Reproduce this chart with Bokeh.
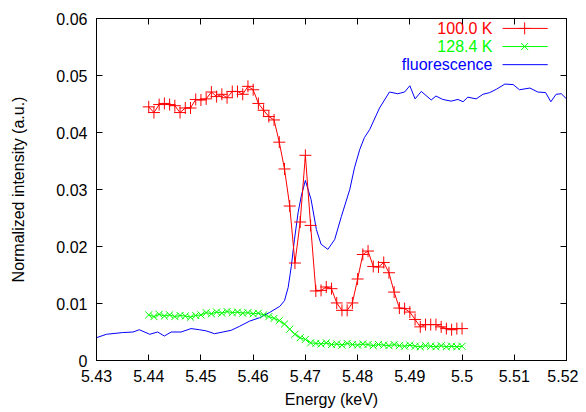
from bokeh.plotting import figure
from bokeh.models import Range1d, FixedTicker, LinearAxis
from bokeh.core.properties import value
from bokeh.embed import file_html
from bokeh.resources import INLINE

# ---------------- data ----------------
energy_start = 5.440
energy_step = 0.001
n_points = 61
energy = [round(energy_start + energy_step * i, 3) for i in range(n_points)]

int_100K = [
    0.0445, 0.0435, 0.0449, 0.0451, 0.0449, 0.0447, 0.0435, 0.0443, 0.0443, 0.0458,
    0.0457, 0.0459, 0.0471, 0.0463, 0.0467, 0.0461, 0.0472, 0.0472, 0.0467, 0.0481,
    0.0475, 0.0451, 0.0439, 0.0428, 0.0422, 0.0383, 0.0336, 0.0271, 0.0171, 0.0243,
    0.0360, 0.0237, 0.0122, 0.0123, 0.0129, 0.0126, 0.0101, 0.0088, 0.0088, 0.0101,
    0.0143, 0.0186, 0.0192, 0.0165, 0.0164, 0.0172, 0.0154, 0.0120, 0.0092, 0.0091,
    0.0085, 0.0072, 0.0059, 0.0063, 0.0063, 0.0063, 0.0059, 0.0056, 0.0054, 0.0056,
    0.0056,
]

int_128K = [
    0.0080, 0.0077, 0.0081, 0.0078, 0.0080, 0.0077, 0.0079, 0.0078, 0.0076, 0.0079,
    0.0080, 0.0084, 0.0082, 0.0085, 0.0083, 0.0086, 0.0084, 0.0085, 0.0083, 0.0084,
    0.0082, 0.0083, 0.0080, 0.0077, 0.0074, 0.0070, 0.0064, 0.0055, 0.0046, 0.0040,
    0.0037, 0.0031, 0.0030, 0.0029, 0.0031, 0.0028, 0.0029, 0.0027, 0.0030, 0.0028,
    0.0027, 0.0029, 0.0028, 0.0026, 0.0028, 0.0027, 0.0026, 0.0028, 0.0026, 0.0025,
    0.0027, 0.0025, 0.0024, 0.0026, 0.0025, 0.0024, 0.0026, 0.0024, 0.0025, 0.0024,
    0.0025,
]

fluo_energy = [
    5.4300, 5.4319, 5.4350, 5.4370, 5.4382, 5.4402, 5.4417, 5.4430, 5.4443, 5.4462,
    5.4481, 5.4497, 5.4510, 5.4526, 5.4542, 5.4558, 5.4574, 5.4593, 5.4612, 5.4631,
    5.4651, 5.4660, 5.4667, 5.4673, 5.4679, 5.4686, 5.4692, 5.4700, 5.4711, 5.4721,
    5.4730, 5.4743, 5.4756, 5.4769, 5.4785, 5.4794, 5.4804, 5.4813, 5.4823, 5.4842,
    5.4861, 5.4877, 5.4890, 5.4900, 5.4910, 5.4922, 5.4941, 5.4950, 5.4963, 5.4979,
    5.4992, 5.5002, 5.5011, 5.5027, 5.5040, 5.5053, 5.5066, 5.5082, 5.5098, 5.5110,
    5.5130, 5.5145, 5.5160, 5.5170, 5.5180, 5.5190, 5.5200,
]
fluo_int = [
    0.0040, 0.0046, 0.0049, 0.0050, 0.0054, 0.0046, 0.0050, 0.0043, 0.0050, 0.0050,
    0.0056, 0.0054, 0.0052, 0.0047, 0.0050, 0.0053, 0.0060, 0.0069, 0.0075, 0.0084,
    0.0095, 0.0105, 0.0128, 0.0165, 0.0212, 0.0259, 0.0288, 0.0316, 0.0282, 0.0230,
    0.0204, 0.0195, 0.0212, 0.0253, 0.0300, 0.0338, 0.0370, 0.0391, 0.0405, 0.0443,
    0.0471, 0.0468, 0.0471, 0.0482, 0.0459, 0.0472, 0.0457, 0.0464, 0.0458, 0.0455,
    0.0458, 0.0454, 0.0462, 0.0459, 0.0467, 0.0470, 0.0476, 0.0485, 0.0484, 0.0475,
    0.0478, 0.0471, 0.0470, 0.0454, 0.0467, 0.0468, 0.0459,
]

x_ticks = [5.43, 5.44, 5.45, 5.46, 5.47, 5.48, 5.49, 5.50, 5.51, 5.52]
x_tick_labels = ["5.43", "5.44", "5.45", "5.46", "5.47", "5.48", "5.49", "5.5", "5.51", "5.52"]
y_ticks = [0.0, 0.01, 0.02, 0.03, 0.04, 0.05, 0.06]
y_tick_labels = ["0", "0.01", "0.02", "0.03", "0.04", "0.05", "0.06"]

series_labels = ["100.0 K", "128.4 K", "fluorescence"]
series_colors = ["#ff0000", "#00ff00", "#0000ff"]

# ---------------- figure ----------------
FONT = "Liberation Sans"
FS = "16px"

p = figure(
    width=578, height=410,
    x_range=Range1d(5.43, 5.52), y_range=Range1d(0, 0.06),
    output_backend="svg", toolbar_location=None,
    min_border_left=96, min_border_right=12, min_border_top=18, min_border_bottom=50,
)
p.xgrid.visible = False
p.ygrid.visible = False
p.outline_line_color = "black"
p.outline_line_width = 1
p.background_fill_color = "white"
p.border_fill_color = "white"

def style_axis(ax, ticks, labels, show_labels=True):
    ax.ticker = FixedTicker(ticks=ticks)
    ax.major_tick_in = 6
    ax.major_tick_out = 0
    ax.minor_tick_line_color = None
    ax.axis_line_color = "black"
    ax.major_tick_line_color = "black"
    ax.major_label_text_font = FONT
    ax.axis_label_text_font = FONT
    ax.axis_label_text_font_style = "normal"
    ax.axis_label_text_font_size = FS
    ax.axis_label_text_color = "black"
    if show_labels:
        ax.major_label_overrides = {t: l for t, l in zip(ticks, labels)}
        ax.major_label_text_font_size = FS
        ax.major_label_text_color = "black"
    else:
        ax.major_label_text_font_size = "1px"
        ax.major_label_text_color = None
        ax.major_label_standoff = 0

xax = p.xaxis[0]
style_axis(xax, x_ticks, x_tick_labels)
xax.axis_label = "Energy (keV)"
xax.major_label_standoff = 9
xax.axis_label_standoff = 6

yax = p.yaxis[0]
style_axis(yax, y_ticks, y_tick_labels)
yax.axis_label = "Normalized intensity (a.u.)"
yax.major_label_standoff = 9
yax.axis_label_standoff = 26

top_ax = LinearAxis()
style_axis(top_ax, x_ticks, x_tick_labels, show_labels=False)
p.add_layout(top_ax, "above")
right_ax = LinearAxis()
style_axis(right_ax, y_ticks, y_tick_labels, show_labels=False)
p.add_layout(right_ax, "right")

# ---------------- data glyphs ----------------
p.line(fluo_energy, fluo_int, line_color=series_colors[2], line_width=1)

p.line(energy, int_128K, line_color=series_colors[1], line_width=1)
p.scatter(energy, int_128K, marker="x", size=10, line_color=series_colors[1], line_width=1)

p.line(energy, int_100K, line_color=series_colors[0], line_width=1)
p.scatter(energy, int_100K, marker="cross", size=12, line_color=series_colors[0], line_width=1)

# ---------------- key (gnuplot style: text left, sample right) ----------------
p.extra_x_ranges = {"fx": Range1d(0, 1)}
p.extra_y_ranges = {"fy": Range1d(0, 1)}
key_rows = [0.971, 0.918, 0.865]
key_text_x = 0.8426
key_x0, key_x1, key_xm = 0.864, 0.960, 0.911
key_markers = ["cross", "x", None]
key_sizes = [12, 10, 0]

for lbl, col, yk, mk, sz in zip(series_labels, series_colors, key_rows, key_markers, key_sizes):
    p.text(x=[key_text_x], y=[yk], text=[lbl],
           text_color=col, text_align="right", text_baseline="middle",
           text_font=value(FONT), text_font_size=value(FS),
           x_range_name="fx", y_range_name="fy")
    p.segment(x0=[key_x0], x1=[key_x1], y0=[yk], y1=[yk],
              line_color=col, line_width=1,
              x_range_name="fx", y_range_name="fy")
    if mk is not None:
        p.scatter(x=[key_xm], y=[yk], marker=mk, size=sz,
                  line_color=col, line_width=1,
                  x_range_name="fx", y_range_name="fy")

open("out.html", "w").write(file_html(p, INLINE))
